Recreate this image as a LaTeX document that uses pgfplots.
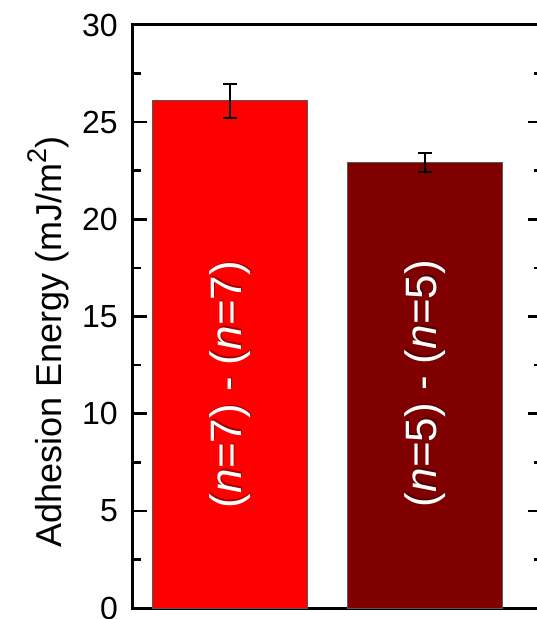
\documentclass[border=0pt]{standalone}
\usepackage{pgfplots}
\pgfplotsset{compat=1.18}
\usepackage{fontspec}
\setmainfont{Liberation Sans}
\definecolor{barA}{RGB}{255,0,0}
\definecolor{barB}{RGB}{128,0,0}
\begin{document}
\begin{tikzpicture}
\begin{axis}[
  at={(0pt,0pt)}, anchor=south west,
  scale only axis, width=409pt, height=583pt,
  xmin=0.5, xmax=2.6, ymin=0, ymax=30,
  xtick=\empty,
  ytick={0,5,10,15,20,25,30},
  minor y tick num=1,
  tick align=inside,
  major tick length=14pt, minor tick length=8.5pt,
  every tick/.style={black, line width=2.5pt},
  axis line style={black, line width=3pt},
  /pgf/number format/assume math mode=true,
  yticklabel style={font=\fontsize{32}{38}\selectfont, inner sep=0pt, xshift=-15pt},
  ylabel={Adhesion Energy (mJ/m\raisebox{0.42em}{\fontsize{27}{30}\selectfont 2})},
  every axis y label/.style={at={(axis description cs:-0.1736,0.456)}, anchor=base, rotate=90, font=\fontsize{36}{42}\selectfont},
  clip=false,
]
\addplot[ybar, bar width=155pt, bar shift=0pt, fill=barA, draw=black!65, line width=1pt,
  error bars/.cd, y dir=both, y explicit,
  error bar style={black, line width=2pt},
  error mark options={rotate=90, mark size=7pt, line width=2pt, black}]
  coordinates {(1,26.1) +- (0,0.87)};
\addplot[ybar, bar width=155pt, bar shift=0pt, fill=barB, draw=black!65, line width=1pt,
  error bars/.cd, y dir=both, y explicit,
  error bar style={black, line width=2pt},
  error mark options={rotate=90, mark size=7pt, line width=2pt, black}]
  coordinates {(2,22.92) +- (0,0.48)};
\node[rotate=90, anchor=center, text=black, opacity=0.35, xshift=1.5pt, yshift=-1pt, font=\fontsize{44}{50}\selectfont] at (axis cs:1,11.5) {(\textit{n}=7) - (\textit{n}=7)};
\node[rotate=90, anchor=center, text=white, font=\fontsize{44}{50}\selectfont] at (axis cs:1,11.5) {(\textit{n}=7) - (\textit{n}=7)};
\node[rotate=90, anchor=center, text=black, opacity=0.35, xshift=1.5pt, yshift=-1pt, font=\fontsize{44}{50}\selectfont] at (axis cs:2,11.55) {(\textit{n}=5) - (\textit{n}=5)};
\node[rotate=90, anchor=center, text=white, font=\fontsize{44}{50}\selectfont] at (axis cs:2,11.55) {(\textit{n}=5) - (\textit{n}=5)};
\end{axis}
\pgfresetboundingbox
\useasboundingbox (-133pt,-11pt) rectangle (403pt,608pt);
\end{tikzpicture}
\end{document}
